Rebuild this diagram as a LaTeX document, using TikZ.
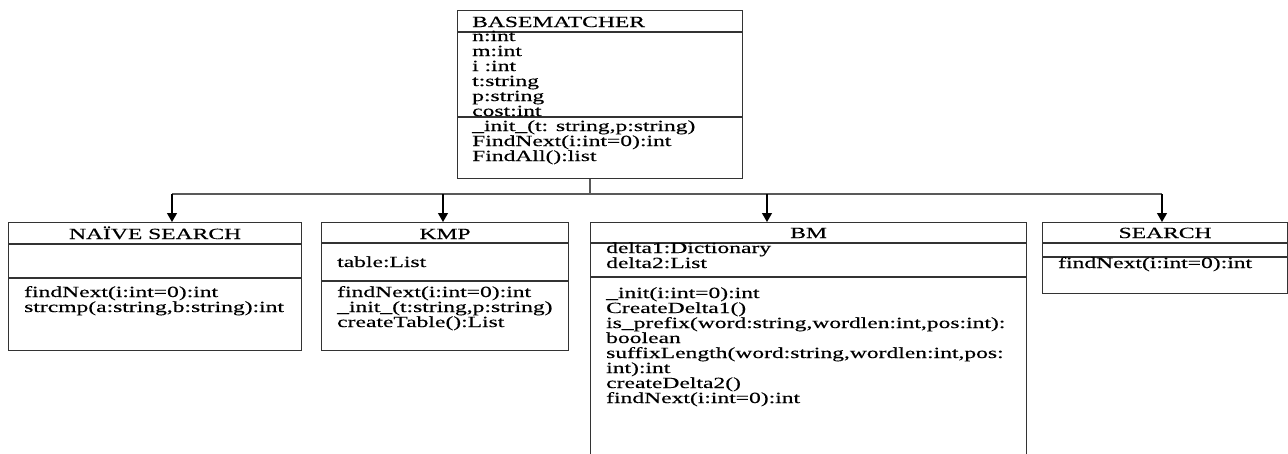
\documentclass[tikz,border=0pt]{standalone}
\usepackage{fontspec}
\setmainfont{Liberation Serif}[FakeStretch=1.52,FakeBold=0.4]
\usetikzlibrary{arrows.meta}

\tikzset{
  classbox/.style = {draw=black!80, line width=1.2pt, inner sep=0pt, anchor=north west},
  member/.style   = {inner sep=0pt, anchor=base west, font=\fontsize{15.5}{15}\selectfont},
  title/.style    = {member, anchor=base},
  rule/.style     = {draw=black!80, line width=1.2pt},
  bus/.style      = {draw=black!65, line width=1.5pt},
  inherit/.style  = {draw=black, line width=1.2pt, -{Triangle[width=10pt,length=9pt]}}
}

\begin{document}
\begin{tikzpicture}[x=1pt,y=-1pt]

\useasboundingbox (0,0) rectangle (1288,453);
\clip (0,0) rectangle (1288,453);

\node[classbox, minimum width=285pt, minimum height=168pt] (base)   at (457,10)  {};
\node[classbox, minimum width=293pt, minimum height=128pt] (naive)  at (8,222)   {};
\node[classbox, minimum width=247pt, minimum height=128pt] (kmp)    at (321,222) {};
\node[classbox, minimum width=436pt, minimum height=245pt] (bm)     at (590,222) {};
\node[classbox, minimum width=245pt, minimum height=71pt]  (search) at (1042,222) {};

\draw[rule] (base.west |- 0,32) -- (base.east |- 0,32);
\draw[rule] (base.west |- 0,117) -- (base.east |- 0,117);
\draw[rule] (naive.west |- 0,244) -- (naive.east |- 0,244);
\draw[rule] (naive.west |- 0,278) -- (naive.east |- 0,278);
\draw[rule] (kmp.west |- 0,243) -- (kmp.east |- 0,243);
\draw[rule] (kmp.west |- 0,281) -- (kmp.east |- 0,281);
\draw[rule] (bm.west |- 0,243) -- (bm.east |- 0,243);
\draw[rule] (bm.west |- 0,277) -- (bm.east |- 0,277);
\draw[rule] (search.west |- 0,243) -- (search.east |- 0,243);
\draw[rule] (search.west |- 0,257) -- (search.east |- 0,257);

\node[member] (base-t) at (472,27) {BASEMATCHER};
\foreach \t [count=\k] in {n:int,m:int,i :int,t:string,p:string,cost:int}
  \node[member] (base-a\k) at (472,26+15*\k) {\t};
\foreach \t [count=\k] in {{\_init\_(t: string,p:string)},{FindNext(i:int=0):int},{FindAll():list}}
  \node[member] (base-m\k) at (472,116+15*\k) {\t};

\node[title] (naive-t) at (naive.north |- 0,239) {NAÏVE SEARCH};
\foreach \t [count=\k] in {{findNext(i:int=0):int},{strcmp(a:string,b:string):int}}
  \node[member] (naive-m\k) at (24,282+15*\k) {\t};

\node[title] (kmp-t) at (kmp.north |- 0,239) {KMP};
\node[member] (kmp-a1) at (337,267) {table:List};
\foreach \t [count=\k] in {{findNext(i:int=0):int},{\_init\_(t:string,p:string)},{createTable():List}}
  \node[member] (kmp-m\k) at (337,282+15*\k) {\t};

\node[title] (bm-t) at (bm.north |- 0,238) {BM};
\foreach \t [count=\k] in {delta1:Dictionary,delta2:List}
  \node[member] (bm-a\k) at (606,238+15*\k) {\t};
\foreach \t [count=\k] in {{\_init(i:int=0):int},{CreateDelta1()},{is\_prefix(word:string,wordlen:int,pos:int):},{boolean},{suffixLength(word:string,wordlen:int,pos:},{int):int},{createDelta2()},{findNext(i:int=0):int}}
  \node[member] (bm-m\k) at (606,283+15*\k) {\t};

\node[title] (search-t) at (search.north |- 0,238) {SEARCH};
\node[member] (search-m1) at (1058,268) {findNext(i:int=0):int};

\coordinate (j0) at (590,194);
\coordinate (j1) at (172,194);
\coordinate (j2) at (443,194);
\coordinate (j3) at (767,194);
\coordinate (j4) at (1162,194);

\draw[bus] (base.south -| j0) -- (j0);
\draw[bus] (j1) -- (j4);

\draw[inherit] (j1) -- (j1 |- naive.north);
\draw[inherit] (j2) -- (j2 |- kmp.north);
\draw[inherit] (j3) -- (j3 |- bm.north);
\draw[inherit] (j4) -- (j4 |- search.north);

\end{tikzpicture}
\end{document}
